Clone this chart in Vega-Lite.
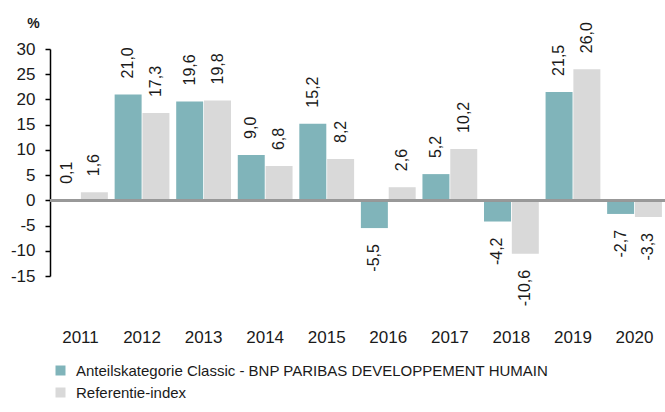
{
  "$schema": "https://vega.github.io/schema/vega-lite/v6.json",
  "autosize": {"type": "none"},
  "padding": {"left": 50, "top": 49, "right": 0, "bottom": 136},
  "width": 615,
  "height": 227,
  "background": "white",
  "config": {
    "view": {"stroke": null},
    "font": "Liberation Sans",
    "axis": {"labelFont": "Liberation Sans", "titleFont": "Liberation Sans", "labelOverlap": false},
    "axisY": {"labelOverlap": false},
    "legend": {"labelFont": "Liberation Sans"}
  },
  "data": {
    "values": [
      {"year": "2011", "series": "Anteilskategorie Classic - BNP PARIBAS DEVELOPPEMENT HUMAIN", "value": 0.1},
      {"year": "2011", "series": "Referentie-index", "value": 1.6},
      {"year": "2012", "series": "Anteilskategorie Classic - BNP PARIBAS DEVELOPPEMENT HUMAIN", "value": 21.0},
      {"year": "2012", "series": "Referentie-index", "value": 17.3},
      {"year": "2013", "series": "Anteilskategorie Classic - BNP PARIBAS DEVELOPPEMENT HUMAIN", "value": 19.6},
      {"year": "2013", "series": "Referentie-index", "value": 19.8},
      {"year": "2014", "series": "Anteilskategorie Classic - BNP PARIBAS DEVELOPPEMENT HUMAIN", "value": 9.0},
      {"year": "2014", "series": "Referentie-index", "value": 6.8},
      {"year": "2015", "series": "Anteilskategorie Classic - BNP PARIBAS DEVELOPPEMENT HUMAIN", "value": 15.2},
      {"year": "2015", "series": "Referentie-index", "value": 8.2},
      {"year": "2016", "series": "Anteilskategorie Classic - BNP PARIBAS DEVELOPPEMENT HUMAIN", "value": -5.5},
      {"year": "2016", "series": "Referentie-index", "value": 2.6},
      {"year": "2017", "series": "Anteilskategorie Classic - BNP PARIBAS DEVELOPPEMENT HUMAIN", "value": 5.2},
      {"year": "2017", "series": "Referentie-index", "value": 10.2},
      {"year": "2018", "series": "Anteilskategorie Classic - BNP PARIBAS DEVELOPPEMENT HUMAIN", "value": -4.2},
      {"year": "2018", "series": "Referentie-index", "value": -10.6},
      {"year": "2019", "series": "Anteilskategorie Classic - BNP PARIBAS DEVELOPPEMENT HUMAIN", "value": 21.5},
      {"year": "2019", "series": "Referentie-index", "value": 26.0},
      {"year": "2020", "series": "Anteilskategorie Classic - BNP PARIBAS DEVELOPPEMENT HUMAIN", "value": -2.7},
      {"year": "2020", "series": "Referentie-index", "value": -3.3}
    ]
  },
  "transform": [
    {"calculate": "replace(replace(format(datum.value, '.1f'), '.', ','), '\u2212', '-')", "as": "label"}
  ],
  "encoding": {
    "x": {
      "field": "year", "type": "nominal",
      "scale": {"paddingInner": 0.11, "paddingOuter": 0.05},
      "axis": {"title": null, "domain": false, "ticks": false, "labelAngle": 0, "labelPadding": 53, "labelFontSize": 17, "labelColor": "#1a1a1a"}
    },
    "xOffset": {
      "field": "series", "type": "nominal",
      "scale": {"domain": ["Anteilskategorie Classic - BNP PARIBAS DEVELOPPEMENT HUMAIN", "Referentie-index"], "paddingInner": 0.03}
    },
    "y": {
      "field": "value", "type": "quantitative",
      "scale": {"domain": [-15, 30], "nice": false, "zero": false},
      "axis": {
        "title": "%", "titleAngle": 0, "titleX": -17, "titleY": -26, "titleAlign": "center", "titleBaseline": "middle",
        "titleFontSize": 14, "titleFontWeight": "bold", "titleColor": "#1a1a1a",
        "values": [-15, -10, -5, 0, 5, 10, 15, 20, 25, 30],
        "labelOverlap": false,
        "labelExpr": "replace(datum.label, '\u2212', '-')",
        "grid": false, "domainColor": "#000000", "domainWidth": 1.5,
        "tickColor": "#000000", "tickWidth": 1.5, "tickSize": 5,
        "labelFontSize": 17, "labelColor": "#1a1a1a", "labelPadding": 10
      }
    }
  },
  "layer": [
    {
      "mark": {"type": "bar"},
      "encoding": {
        "color": {
          "field": "series", "type": "nominal",
          "scale": {"domain": ["Anteilskategorie Classic - BNP PARIBAS DEVELOPPEMENT HUMAIN", "Referentie-index"], "range": ["#80b4ba", "#d9d9d9"]},
          "legend": {
            "title": null, "orient": "none", "legendX": 3, "legendY": 314,
            "symbolType": "square", "symbolSize": 100, "symbolStrokeWidth": 0,
            "labelFontSize": 15, "labelColor": "#1a1a1a", "labelOffset": 8, "rowPadding": 6, "labelLimit": 1000
          }
        }
      }
    },
    {
      "mark": {"type": "rule", "color": "#999999", "strokeWidth": 2},
      "encoding": {"y": {"datum": 0}, "x": null, "xOffset": null}
    },
    {
      "transform": [{"filter": "datum.value >= 0"}],
      "mark": {"type": "text", "angle": 270, "align": "left", "baseline": "middle", "dx": 16, "fontSize": 16, "color": "#1a1a1a"},
      "encoding": {"text": {"field": "label"}}
    },
    {
      "transform": [{"filter": "datum.value < 0"}],
      "mark": {"type": "text", "angle": 270, "align": "right", "baseline": "middle", "dx": -16, "fontSize": 16, "color": "#1a1a1a"},
      "encoding": {"text": {"field": "label"}}
    }
  ]
}
